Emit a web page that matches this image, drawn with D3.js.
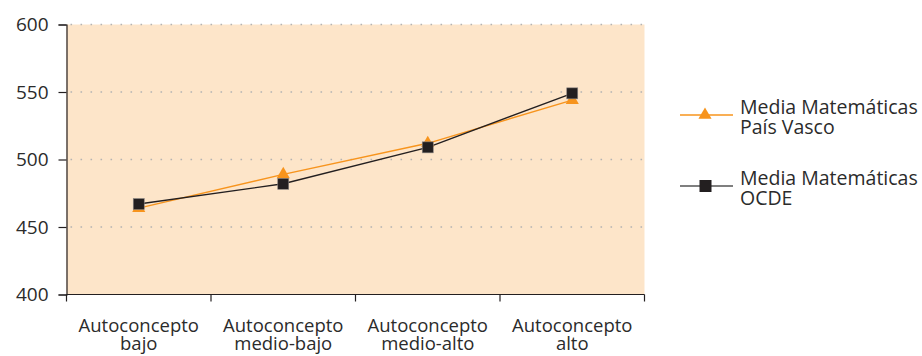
<!DOCTYPE html>
<html>
<head>
<meta charset="utf-8">
<script src="https://cdn.jsdelivr.net/npm/d3@7"></script>
<style>
  html, body { margin: 0; padding: 0; background: #ffffff; }
  svg { display: block; }
  text { font-family: "Open Sans", "Noto Sans", sans-serif; fill: #2b2b2b; }
</style>
</head>
<body>
<svg id="chart" width="922" height="356"></svg>
<script>
// Categories and series
const categories = [
  ["Autoconcepto", "bajo"],
  ["Autoconcepto", "medio-bajo"],
  ["Autoconcepto", "medio-alto"],
  ["Autoconcepto", "alto"]
];
const paisVasco = [464, 489, 512, 544];
const ocde = [467, 482, 509, 549];
const yTicks = [400, 450, 500, 550, 600];
const seriesNames = [
  ["Media Matemáticas", "País Vasco"],
  ["Media Matemáticas", "OCDE"]
];

const svg = d3.select("#chart");
const plot = { left: 66.5, right: 644.5, top: 24.5, bottom: 294.5 };
const fontSize = 19;

const x = d3.scaleBand()
  .domain(d3.range(categories.length))
  .range([plot.left, plot.right])
  .padding(0);
const y = d3.scaleLinear()
  .domain([400, 600])
  .range([plot.bottom, plot.top]);

// Plot background
svg.append("rect")
  .attr("x", plot.left).attr("y", plot.top)
  .attr("width", plot.right - plot.left)
  .attr("height", plot.bottom - plot.top)
  .attr("fill", "#fde5c9");

// Dotted gridlines
svg.append("g")
  .selectAll("line")
  .data(yTicks.filter(t => t > 400))
  .join("line")
  .attr("x1", plot.left + 4).attr("x2", plot.right)
  .attr("y1", d => y(d)).attr("y2", d => y(d))
  .attr("stroke", "#b3b3b3")
  .attr("stroke-width", 1.6)
  .attr("stroke-dasharray", "1.6,8.4");

// Y axis
const yAxis = svg.append("g")
  .attr("transform", `translate(${plot.left},0)`)
  .call(d3.axisLeft(y).tickValues(yTicks).tickSize(8).tickPadding(10));
yAxis.select(".domain").attr("stroke", "#231f20").attr("stroke-width", 1.2);
yAxis.selectAll(".tick line").attr("stroke", "#231f20").attr("stroke-width", 1.2);
yAxis.selectAll(".tick text")
  .attr("font-size", fontSize)
  .attr("fill", "#2b2b2b")
  .style("font-family", "'Open Sans', sans-serif");

// X axis: ticks at band boundaries
const xAxisG = svg.append("g");
xAxisG.append("line")
  .attr("x1", plot.left).attr("x2", plot.right)
  .attr("y1", plot.bottom).attr("y2", plot.bottom)
  .attr("stroke", "#231f20").attr("stroke-width", 1.2);
const bounds = d3.range(categories.length + 1).map(i =>
  i < categories.length ? x(i) : x(categories.length - 1) + x.bandwidth());
xAxisG.selectAll("line.tk")
  .data(bounds)
  .join("line")
  .attr("class", "tk")
  .attr("x1", d => d).attr("x2", d => d)
  .attr("y1", plot.bottom).attr("y2", plot.bottom + 7)
  .attr("stroke", "#231f20").attr("stroke-width", 1.2);

const catLabels = xAxisG.selectAll("text.cat")
  .data(categories)
  .join("text")
  .attr("class", "cat")
  .attr("text-anchor", "middle")
  .attr("font-size", 18.5)
  .attr("transform", (d, i) => `translate(${x(i) + x.bandwidth() / 2},0)`);
catLabels.selectAll("tspan")
  .data(d => d)
  .join("tspan")
  .attr("x", 0)
  .attr("y", (d, i) => 332 + i * 18)
  .text(d => d);

// Lines and markers
const cx = i => x(i) + x.bandwidth() / 2;
const line = d3.line().x((d, i) => cx(i)).y(d => y(d));

svg.append("path")
  .datum(paisVasco)
  .attr("d", line)
  .attr("fill", "none")
  .attr("stroke", "#f7941d")
  .attr("stroke-width", 1.4);

svg.append("path")
  .datum(ocde)
  .attr("d", line)
  .attr("fill", "none")
  .attr("stroke", "#231f20")
  .attr("stroke-width", 1.4);

const tri = d3.symbol().type(d3.symbolTriangle).size(75);
svg.append("g")
  .selectAll("path")
  .data(paisVasco)
  .join("path")
  .attr("d", tri)
  .attr("transform", (d, i) => `translate(${cx(i)},${y(d)})`)
  .attr("fill", "#f7941d");

svg.append("g")
  .selectAll("rect")
  .data(ocde)
  .join("rect")
  .attr("x", (d, i) => cx(i) - 5.5)
  .attr("y", d => y(d) - 5.5)
  .attr("width", 11).attr("height", 11)
  .attr("fill", "#231f20")
  .attr("stroke", "#8a8583")
  .attr("stroke-width", 0.6);

// Legend
const legend = svg.append("g");
const legendRows = [
  { y: 115, color: "#f7941d", marker: "tri" },
  { y: 186, color: "#555555", marker: "sq" }
];
legendRows.forEach((r, i) => {
  const g = legend.append("g").attr("transform", `translate(0,${r.y})`);
  g.append("line")
    .attr("x1", 680).attr("x2", 733)
    .attr("y1", 0).attr("y2", 0)
    .attr("stroke", r.color).attr("stroke-width", 1.4);
  if (r.marker === "tri") {
    g.append("path").attr("d", tri).attr("transform", "translate(705,0)").attr("fill", "#f7941d");
  } else {
    g.append("rect").attr("x", 699.5).attr("y", -6).attr("width", 12).attr("height", 12).attr("fill", "#231f20");
  }
  const t = g.append("text").attr("font-size", 19.5);
  t.selectAll("tspan")
    .data(seriesNames[i])
    .join("tspan")
    .attr("x", 740)
    .attr("y", (d, j) => -1 + j * 20)
    .text(d => d);
});
</script>
</body>
</html>
